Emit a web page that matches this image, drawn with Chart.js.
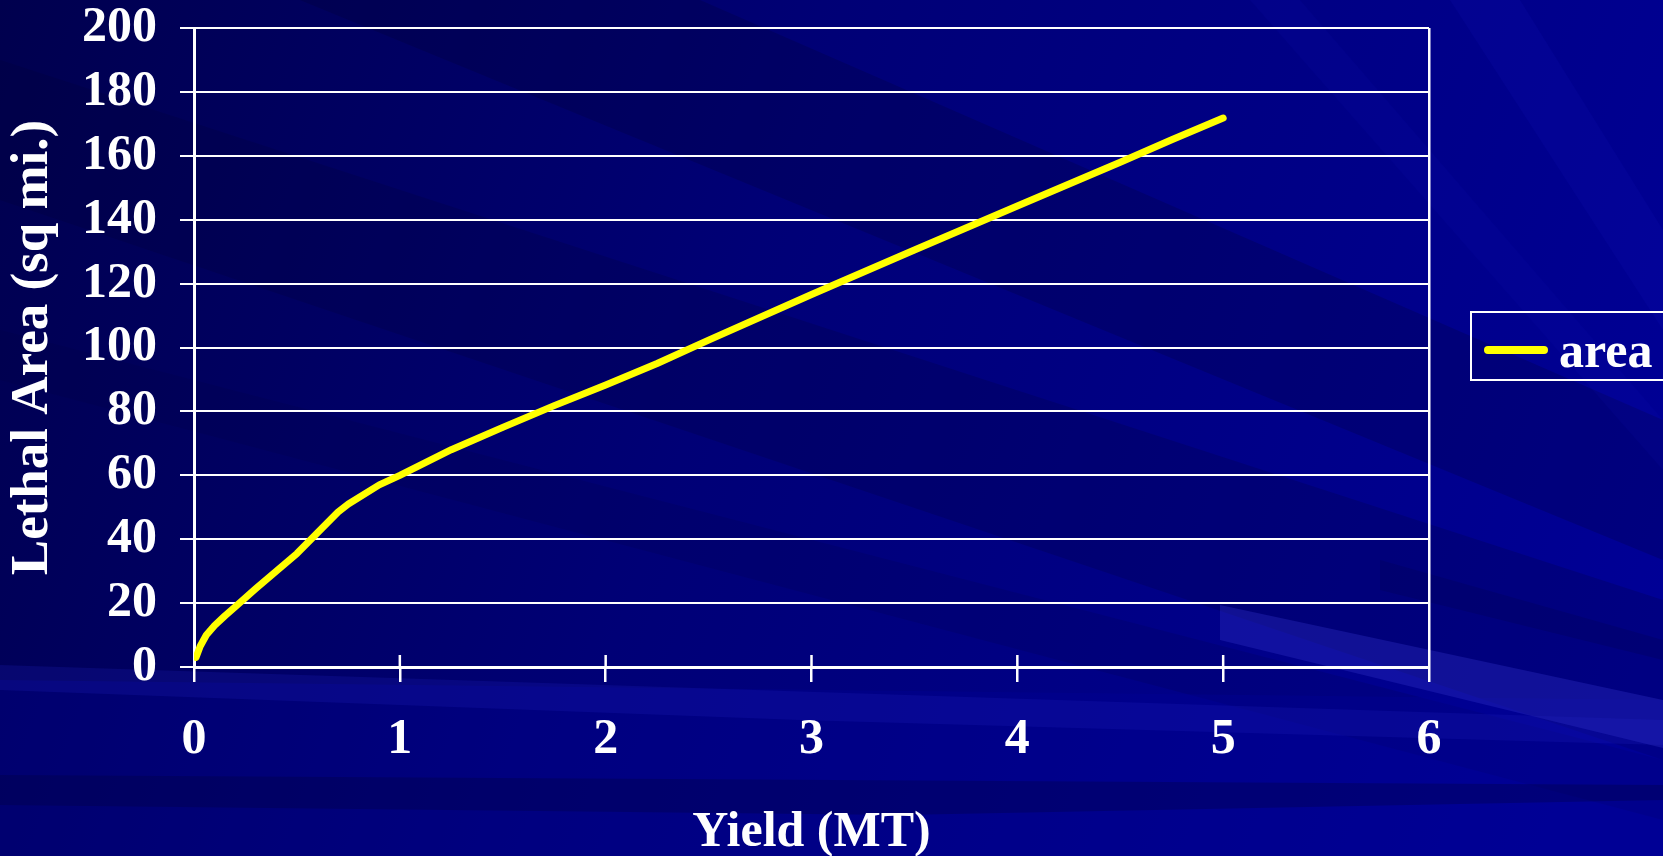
<!DOCTYPE html>
<html>
<head>
<meta charset="utf-8">
<script src="https://cdn.jsdelivr.net/npm/chart.js@4/dist/chart.umd.min.js"></script>
<style>
  html, body { margin: 0; padding: 0; background: #000080; overflow: hidden; }
  #wrap { width: 1663px; height: 856px; }
</style>
</head>
<body>
<div id="wrap"><canvas id="myChart" width="1663" height="856"></canvas></div>
<script>
// data
const yieldMT = [0.01, 0.03, 0.06, 0.1, 0.15, 0.2, 0.3, 0.4, 0.5, 0.6, 0.7, 0.75, 0.9, 1.0, 1.25, 1.5, 1.75, 2.0, 2.25, 2.5, 3.0, 3.5, 4.0, 4.5, 4.75, 5.0];
const lethalArea = [3, 6.5, 10, 13, 16, 18.8, 24.5, 30, 35.5, 42, 48.5, 51, 57, 60, 68, 75, 81.8, 88.3, 95, 102.3, 116.6, 130.5, 144.3, 158, 165, 171.8];
const seriesName = 'area';
const xTicks = [0, 1, 2, 3, 4, 5, 6];
const yTicks = [0, 20, 40, 60, 80, 100, 120, 140, 160, 180, 200];
const xTitle = 'Yield (MT)';
const yTitle = 'Lethal Area (sq mi.)';

const serif = "'Liberation Serif', 'Times New Roman', serif";

// slide-style background with diagonal streaks
const backdrop = {
    id: 'backdrop',
    beforeDraw(chart) {
        const ctx = chart.ctx, W = chart.width, H = chart.height;
        ctx.save();
        const g = ctx.createLinearGradient(0, 0, W, H * 0.7);
        g.addColorStop(0, '#00004e');
        g.addColorStop(0.45, '#000076');
        g.addColorStop(1, '#000096');
        ctx.fillStyle = g;
        ctx.fillRect(0, 0, W, H);

        const band = (pts, col) => {
            ctx.beginPath();
            ctx.moveTo(pts[0][0], pts[0][1]);
            for (let i = 1; i < pts.length; i++) ctx.lineTo(pts[i][0], pts[i][1]);
            ctx.closePath();
            ctx.fillStyle = col;
            ctx.fill();
        };
        // dark streaks upper half
        band([[0, 60], [0, 200], [1663, 760], [1663, 600]], 'rgba(0,0,50,0.2)');
        band([[300, 0], [700, 0], [1663, 420], [1663, 560]], 'rgba(0,0,40,0.2)');
        band([[0, 330], [0, 380], [1663, 820], [1663, 760]], 'rgba(0,0,60,0.15)');
        // faint lighter streaks right side
        band([[1450, 0], [1520, 0], [1663, 230], [1663, 330]], 'rgba(20,20,190,0.15)');
        band([[1250, 0], [1300, 0], [1663, 420], [1663, 470]], 'rgba(20,20,180,0.12)');
        // lower area
        band([[0, 680], [1663, 700], [1663, 856], [0, 856]], 'rgba(0,0,150,0.35)');
        band([[0, 690], [800, 720], [1663, 745], [1663, 720], [0, 665]], 'rgba(30,30,190,0.22)');
        band([[0, 775], [0, 805], [900, 815], [1663, 800], [1663, 785]], 'rgba(0,0,60,0.30)');
        band([[1220, 605], [1663, 700], [1663, 748], [1220, 640]], 'rgba(50,50,200,0.35)');
        band([[1380, 560], [1663, 640], [1663, 660], [1380, 590]], 'rgba(0,0,80,0.25)');
        ctx.restore();
    }
};

// cross ticks on the x axis and the boxed legend
const extras = {
    id: 'extras',
    afterDraw(chart) {
        const ctx = chart.ctx, xs = chart.scales.x, a = chart.chartArea;
        ctx.save();
        ctx.strokeStyle = '#ffffff';
        ctx.lineWidth = 2.5;
        xTicks.slice(1, -1).forEach(v => {
            const px = xs.getPixelForValue(v);
            ctx.beginPath();
            ctx.moveTo(px, a.bottom - 12);
            ctx.lineTo(px, a.bottom);
            ctx.stroke();
        });

        const ds = chart.data.datasets[0];
        const lx = a.right + 42, ly = a.top + 284;
        ctx.lineWidth = 2;
        ctx.strokeRect(lx, ly, 220, 68);
        ctx.strokeStyle = ds.borderColor;
        ctx.lineWidth = 8;
        ctx.lineCap = 'round';
        ctx.beginPath();
        ctx.moveTo(lx + 17, ly + 38);
        ctx.lineTo(lx + 73, ly + 38);
        ctx.stroke();
        ctx.fillStyle = '#ffffff';
        ctx.font = 'bold 50px ' + serif;
        ctx.textBaseline = 'alphabetic';
        ctx.fillText(ds.label, lx + 88, ly + 55);
        ctx.restore();
    }
};

const ctx = document.getElementById('myChart').getContext('2d');
const myChart = new Chart(ctx, {
    type: 'line',
    data: {
        datasets: [{
            label: seriesName,
            data: yieldMT.map((x, i) => ({ x: x, y: lethalArea[i] })),
            borderColor: '#ffff00',
            borderWidth: 7,
            borderCapStyle: 'round',
            borderJoinStyle: 'round',
            pointRadius: 0,
            tension: 0,
            fill: false
        }]
    },
    options: {
        responsive: false,
        animation: false,
        devicePixelRatio: 1,
        layout: { padding: { left: 0, right: 234, top: 28, bottom: 0 } },
        plugins: { legend: { display: false }, tooltip: { enabled: false } },
        scales: {
            x: {
                type: 'linear',
                min: 0,
                max: 6,
                afterBuildTicks: s => { s.ticks = xTicks.map(v => ({ value: v })); },
                afterFit: s => { s.height = 189; },
                grid: {
                    drawOnChartArea: true,
                    color: c => (c.tick && c.tick.value === 6) ? '#ffffff' : 'rgba(0,0,0,0)',
                    tickColor: '#ffffff',
                    tickLength: 15,
                    lineWidth: 2.5
                },
                border: { color: '#ffffff', width: 3 },
                ticks: {
                    color: '#ffffff',
                    padding: 33,
                    font: { family: serif, weight: 'bold', size: 50, lineHeight: 1 }
                },
                title: {
                    display: true,
                    text: xTitle,
                    color: '#ffffff',
                    padding: { top: 0, bottom: -2 },
                    font: { family: serif, weight: 'bold', size: 50, lineHeight: 1 }
                }
            },
            y: {
                min: 0,
                max: 200,
                afterBuildTicks: s => { s.ticks = yTicks.map(v => ({ value: v })); },
                afterFit: s => { s.width = 194; s.paddingTop = 0; s.paddingBottom = 0; },
                grid: {
                    color: '#ffffff',
                    lineWidth: 2,
                    tickLength: 14
                },
                border: { color: '#ffffff', width: 3 },
                ticks: {
                    color: '#ffffff',
                    padding: 23,
                    font: { family: serif, weight: 'bold', size: 50, lineHeight: 1 }
                },
                title: {
                    display: true,
                    text: yTitle,
                    color: '#ffffff',
                    padding: { top: 7, bottom: 0 },
                    font: { family: serif, weight: 'bold', size: 53, lineHeight: 1 }
                }
            }
        }
    },
    plugins: [backdrop, extras]
});
</script>
</body>
</html>
